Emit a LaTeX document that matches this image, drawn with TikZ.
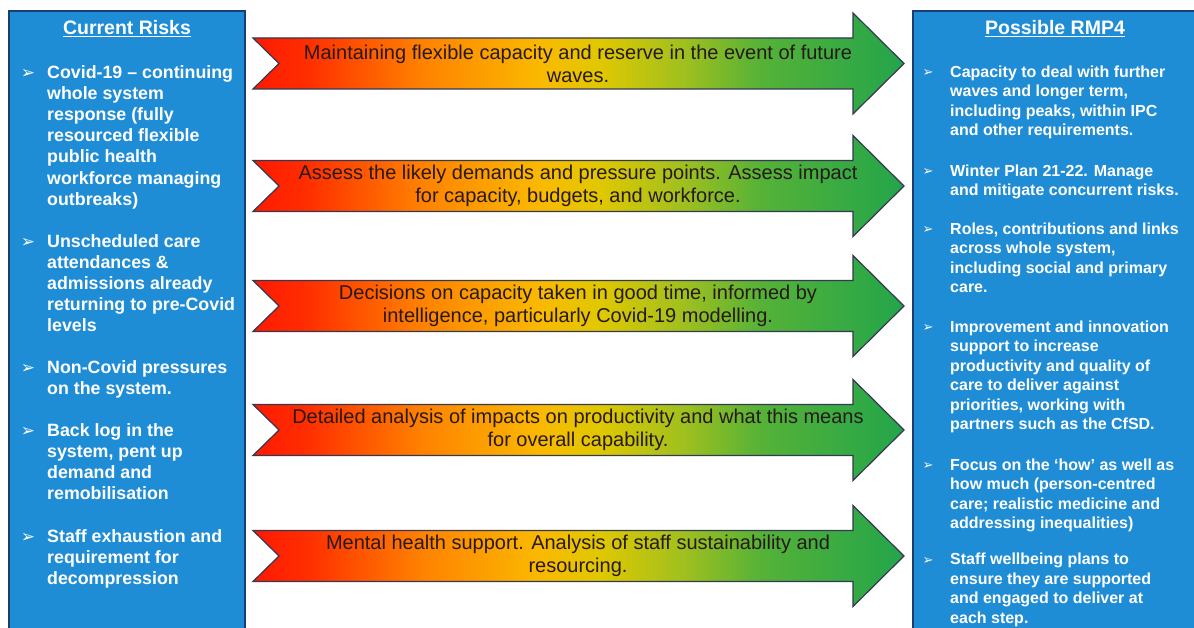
\documentclass[tikz,border=0pt]{standalone}
\usepackage{fontspec}
\setmainfont{Liberation Sans}
\newfontfamily\dejavu{DejaVu Sans}
\definecolor{panelblue}{RGB}{31,141,214}
\definecolor{paneledge}{RGB}{28,62,110}
\definecolor{arrowedge}{RGB}{52,56,82}
\definecolor{atextcol}{RGB}{40,25,25}
\definecolor{gc0}{RGB}{255,25,0}
\definecolor{gc1}{RGB}{255,45,0}
\definecolor{gc2}{RGB}{255,130,0}
\definecolor{gc3}{RGB}{250,185,0}
\definecolor{gc4}{RGB}{225,200,0}
\definecolor{gc5}{RGB}{160,192,30}
\definecolor{gc6}{RGB}{85,178,55}
\definecolor{gc7}{RGB}{35,165,75}
\pgfdeclarehorizontalshading{rag}{100bp}{color(0bp)=(gc0); color(25bp)=(gc0); color(29bp)=(gc1); color(38bp)=(gc2); color(47bp)=(gc3); color(51.5bp)=(gc4); color(58bp)=(gc5); color(64bp)=(gc6); color(75bp)=(gc7); color(100bp)=(gc7)}
\tikzset{
  panel/.style={draw=paneledge, fill=panelblue, line width=1.6pt},
  garrow/.style={shading=rag, draw=arrowedge, line width=1.2pt, line join=miter},
  ptitle/.style={font=\fontsize{19.5}{23}\selectfont\bfseries, text=white, inner sep=0pt},
  ltext/.style={font=\fontsize{17.8}{21.1}\selectfont\bfseries, text=white, align=left, inner sep=0pt, anchor=north west},
  rtext/.style={font=\fontsize{16}{19.5}\selectfont\bfseries, text=white, align=left, inner sep=0pt, anchor=north west},
  lbul/.style={font=\dejavu\fontsize{17}{17}\selectfont, text=white, inner sep=0pt},
  rbul/.style={font=\dejavu\fontsize{13}{13}\selectfont, text=white, inner sep=0pt},
  atext/.style={font=\fontsize{20}{23}\selectfont, text=atextcol, align=center, inner sep=0pt}
}
\begin{document}
\begin{tikzpicture}[x=1pt,y=-1pt]
\useasboundingbox (0,0) rectangle (1194,628);
\clip (0,0) rectangle (1194,628);
\fill[white] (0,0) rectangle (1194,628);
% panels
\draw[panel] (9,11) rectangle (245,645);
\draw[panel] (913,11) rectangle (1210,645);
\node[ptitle] (lt) at (127,29) {\underline{Current Risks}};
\node[ptitle] (rt) at (1055,29) {\underline{Possible RMP4}};
% arrows
\foreach \c in {63.5,186,306,430,556}{
  \shadedraw[garrow] (253,\c-25.5) -- (853,\c-25.5) -- (853,\c-50.5) -- (904,\c) -- (853,\c+50.5) -- (853,\c+25.5) -- (253,\c+25.5) -- (279,\c) -- cycle;
}
\node[atext] (a1) at (578,63.5) {Maintaining flexible capacity and reserve in the event of future\\waves.};
\node[atext] (a2) at (578,186) {Assess the likely demands and pressure points. Assess impact\\for capacity, budgets, and workforce.};
\node[atext] (a3) at (578,306) {Decisions on capacity taken in good time, informed by\\intelligence, particularly Covid-19 modelling.};
\node[atext] (a4) at (578,430) {Detailed analysis of impacts on productivity and what this means\\for overall capability.};
\node[atext] (a5) at (578,556) {Mental health support. Analysis of staff sustainability and\\resourcing.};
% left bullets
\foreach \y/\n in {74/1,243/2,369/3,432/4,538/5}{
  \node[lbul] (lb\n) at (28,\y) {➢};
}
\node[ltext] (l1) at (47,65.5) {Covid-19 – continuing\\whole system\\response (fully\\resourced flexible\\public health\\workforce managing\\outbreaks)};
\node[ltext] (l2) at (47,234.5) {Unscheduled care\\attendances \&\\admissions already\\returning to pre-Covid\\levels};
\node[ltext] (l3) at (47,360.5) {Non-Covid pressures\\on the system.};
\node[ltext] (l4) at (47,423.5) {Back log in the\\system, pent up\\demand and\\remobilisation};
\node[ltext] (l5) at (47,529.5) {Staff exhaustion and\\requirement for\\decompression};
% right bullets
\foreach \y/\n in {73/1,172/2,230/3,328/4,466/5,561/6}{
  \node[rbul] (rb\n) at (928,\y) {➢};
}
\node[rtext] (r1) at (950,65.5) {Capacity to deal with further\\waves and longer term,\\including peaks, within IPC\\and other requirements.};
\node[rtext] (r2) at (950,164.5) {Winter Plan 21-22. Manage\\and mitigate concurrent risks.};
\node[rtext] (r3) at (950,222.5) {Roles, contributions and links\\across whole system,\\including social and primary\\care.};
\node[rtext] (r4) at (950,320.5) {Improvement and innovation\\support to increase\\productivity and quality of\\care to deliver against\\priorities, working with\\partners such as the CfSD.};
\node[rtext] (r5) at (950,458.5) {Focus on the ‘how’ as well as\\how much (person-centred\\care; realistic medicine and\\addressing inequalities)};
\node[rtext] (r6) at (950,553) {Staff wellbeing plans to\\ensure they are supported\\and engaged to deliver at\\each step.};
\end{tikzpicture}
\end{document}
